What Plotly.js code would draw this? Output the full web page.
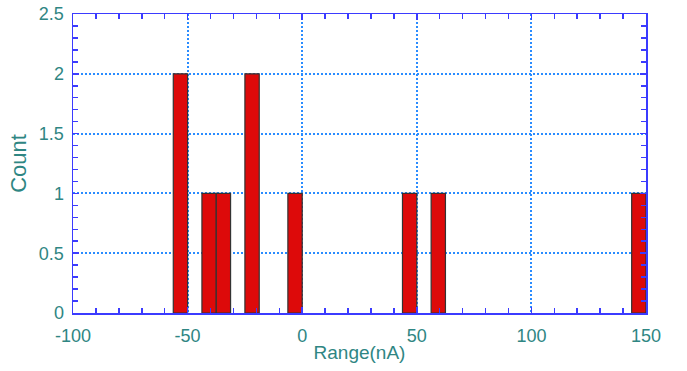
<!DOCTYPE html>
<html>
<head>
<meta charset="utf-8">
<script src="https://cdn.plot.ly/plotly-3.0.1.min.js"></script>
<style>html,body{margin:0;padding:0;background:#fff;}#chart{width:687px;height:371px;}</style>
</head>
<body>
<div id="chart"></div>
<script>
// Bin centres (nA) and counts
const binCenters = [-53.125, -40.625, -34.375, -21.875, -3.125, 46.875, 59.375, 146.875];
const counts = [2, 1, 1, 2, 1, 1, 1, 1];
const binWidth = 6.25;
const xTickVals = [-100, -50, 0, 50, 100, 150];
const xTickText = ['-100', '-50', '0', '50', '100', '150'];
const yTickVals = [0, 0.5, 1, 1.5, 2, 2.5];
const yTickText = ['0', '0.5', '1', '1.5', '2', '2.5'];

const textColor = '#2f8683';
const axisBlue = '#3b3bff';
const gridBlue = '#2a8cff';
const fontFam = 'Liberation Sans, Arial, sans-serif';

const trace = {
  type: 'bar',
  x: binCenters,
  y: counts,
  width: binWidth,
  marker: {color: '#dd0a0a', line: {color: '#333333', width: 1.2}},
  hoverinfo: 'x+y'
};

const axisCommon = {
  showline: true,
  linecolor: axisBlue,
  linewidth: 1.5,
  mirror: 'allticks',
  ticks: 'inside',
  ticklen: 6,
  tickcolor: axisBlue,
  tickwidth: 1.5,
  showgrid: true,
  gridcolor: gridBlue,
  griddash: '2px,2px',
  gridwidth: 2,
  zeroline: false,
  tickmode: 'array',
  tickfont: {family: fontFam, size: 18, color: textColor}
};

const layout = {
  width: 687,
  height: 371,
  margin: {l: 73, r: 41, t: 14, b: 58},
  paper_bgcolor: '#ffffff',
  plot_bgcolor: '#ffffff',
  showlegend: false,
  bargap: 0,
  xaxis: Object.assign({}, axisCommon, {
    range: [-100, 150],
    tickvals: xTickVals,
    ticktext: xTickText,
    ticklabelstandoff: 6,
    minor: {tickmode: 'linear', tick0: -100, dtick: 10, ticks: 'inside', ticklen: 5, tickwidth: 1.5, tickcolor: axisBlue, showgrid: false},
    title: {text: 'Range(nA)', font: {family: fontFam, size: 19, color: textColor}, standoff: 0}
  }),
  yaxis: Object.assign({}, axisCommon, {
    range: [0, 2.5],
    tickvals: yTickVals,
    ticktext: yTickText,
    ticklabelstandoff: 4,
    minor: {tickmode: 'linear', tick0: 0, dtick: 0.1, ticks: 'inside', ticklen: 5, tickwidth: 1.5, tickcolor: axisBlue, showgrid: false},
    title: {text: 'Count', font: {family: fontFam, size: 22, color: textColor}, standoff: 6}
  })
};

Plotly.newPlot('chart', [trace], layout, {displayModeBar: false, staticPlot: true});
</script>
</body>
</html>
